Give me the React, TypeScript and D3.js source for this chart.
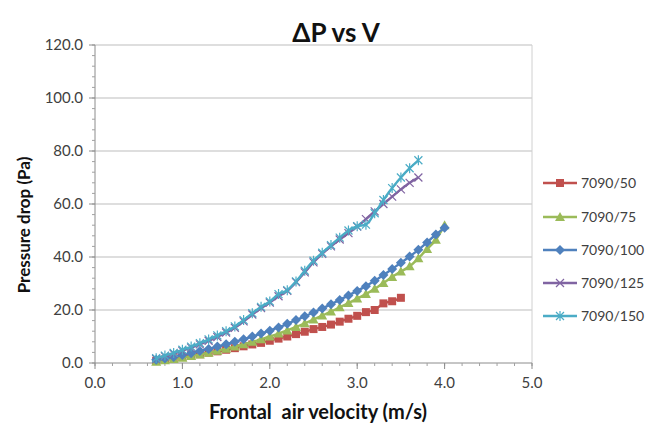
import React from "react";
import * as d3 from "d3";

const seriesNames = ["7090/50", "7090/75", "7090/100", "7090/125", "7090/150"];
const seriesColors = ["#C0504D", "#9BBB59", "#4F81BD", "#8064A2", "#4BACC6"];
const markerTypes = ["square", "triangle", "diamond", "x", "star"];

const v50 = [0.7, 0.8, 0.9, 1.0, 1.1, 1.2, 1.3, 1.4, 1.5, 1.6, 1.7, 1.8, 1.9, 2.0, 2.1, 2.2, 2.3, 2.4, 2.5, 2.6, 2.7, 2.8, 2.9, 3.0, 3.1, 3.2, 3.3, 3.4, 3.5];
const p50 = [0.8, 1.3, 1.8, 2.3, 2.8, 3.3, 3.9, 4.4, 5.0, 5.6, 6.3, 7.0, 7.6, 8.4, 9.2, 10.0, 10.9, 11.8, 12.8, 13.6, 14.5, 15.6, 16.7, 17.8, 19.2, 20.0, 22.5, 23.3, 24.6];

const v75 = [0.7, 0.8, 0.9, 1.0, 1.1, 1.2, 1.3, 1.4, 1.5, 1.6, 1.7, 1.8, 1.9, 2.0, 2.1, 2.2, 2.3, 2.4, 2.5, 2.6, 2.7, 2.8, 2.9, 3.0, 3.1, 3.2, 3.3, 3.4, 3.5, 3.6, 3.7, 3.8, 3.9, 4.0];
const p75 = [0.5, 1.0, 1.5, 2.0, 2.6, 3.2, 3.9, 4.6, 5.4, 6.2, 7.1, 8.0, 9.0, 10.0, 11.1, 12.3, 13.6, 15.0, 16.4, 17.9, 19.4, 21.0, 22.6, 24.3, 26.0, 28.0, 30.2, 32.5, 34.5, 36.5, 39.5, 43.0, 46.5, 52.0];

const v100 = [0.7, 0.8, 0.9, 1.0, 1.1, 1.2, 1.3, 1.4, 1.5, 1.6, 1.7, 1.8, 1.9, 2.0, 2.1, 2.2, 2.3, 2.4, 2.5, 2.6, 2.7, 2.8, 2.9, 3.0, 3.1, 3.2, 3.3, 3.4, 3.5, 3.6, 3.7, 3.8, 3.9, 4.0];
const p100 = [1.2, 1.7, 2.3, 3.0, 3.7, 4.5, 5.3, 6.2, 7.1, 8.0, 9.0, 10.0, 11.1, 12.2, 13.4, 14.8, 16.2, 17.6, 19.1, 20.6, 22.2, 23.8, 25.5, 27.2, 29.0, 31.0, 33.2, 35.5, 37.8, 40.2, 42.7, 45.5, 48.5, 51.0];

const v125 = [0.7, 0.8, 0.9, 1.0, 1.1, 1.2, 1.3, 1.4, 1.5, 1.6, 1.7, 1.8, 1.9, 2.0, 2.1, 2.2, 2.3, 2.4, 2.5, 2.6, 2.7, 2.8, 2.9, 3.0, 3.1, 3.2, 3.3, 3.4, 3.5, 3.6, 3.7];
const p125 = [1.5, 2.5, 3.5, 4.6, 5.8, 7.0, 8.4, 9.8, 11.5, 13.3, 15.7, 18.3, 20.7, 22.8, 25.2, 27.2, 30.5, 34.2, 38.0, 41.2, 44.0, 46.6, 49.0, 51.5, 54.3, 57.2, 60.0, 62.8, 65.5, 68.0, 70.0];

const v150 = [0.7, 0.8, 0.9, 1.0, 1.1, 1.2, 1.3, 1.4, 1.5, 1.6, 1.7, 1.8, 1.9, 2.0, 2.1, 2.2, 2.3, 2.4, 2.5, 2.6, 2.7, 2.8, 2.9, 3.0, 3.1, 3.2, 3.3, 3.4, 3.5, 3.6, 3.7];
const p150 = [1.8, 2.8, 3.8, 5.0, 6.2, 7.5, 8.9, 10.4, 12.0, 13.8, 16.2, 18.8, 21.2, 23.2, 26.0, 27.5, 30.8, 34.8, 38.6, 41.6, 44.5, 47.3, 50.0, 51.6, 52.2, 56.5, 61.5, 66.0, 70.0, 73.5, 76.5];

const xTicks = [0, 1, 2, 3, 4, 5];
const yTicks = [0, 20, 40, 60, 80, 100, 120];

const W = 652;
const H = 425;
const left = 95;
const right = 532;
const top = 45;
const bottom = 363;

const FONT = "Lato, 'Open Sans', 'Liberation Sans', sans-serif";

function Marker({ type, x, y, color }: { type: string; x: number; y: number; color: string }) {
  if (type === "square") {
    return <rect x={x - 4} y={y - 4} width={8} height={8} fill={color} />;
  }
  if (type === "triangle") {
    return <path d={`M${x},${y - 5}L${x + 5},${y + 4}L${x - 5},${y + 4}Z`} fill={color} />;
  }
  if (type === "diamond") {
    return <path d={`M${x},${y - 5}L${x + 5},${y}L${x},${y + 5}L${x - 5},${y}Z`} fill={color} />;
  }
  if (type === "x") {
    return (
      <path d={`M${x - 4},${y - 4}L${x + 4},${y + 4}M${x - 4},${y + 4}L${x + 4},${y - 4}`} stroke={color} strokeWidth={1.2} fill="none" />
    );
  }
  return (
    <path
      d={`M${x - 4},${y - 4}L${x + 4},${y + 4}M${x - 4},${y + 4}L${x + 4},${y - 4}M${x},${y - 5}L${x},${y + 5}`}
      stroke={color}
      strokeWidth={1.2}
      fill="none"
    />
  );
}

export default function App() {
  const xs = d3.scaleLinear().domain([0, 5]).range([left, right]);
  const ys = d3.scaleLinear().domain([0, 120]).range([bottom, top]);

  const vs = [v50, v75, v100, v125, v150];
  const ps = [p50, p75, p100, p125, p150];
  const series = seriesNames.map((name, i) => ({
    name,
    color: seriesColors[i],
    marker: markerTypes[i],
    pts: vs[i].map((v, j) => [v, ps[i][j]] as [number, number]),
  }));

  const line = d3
    .line<[number, number]>()
    .x((d) => xs(d[0]))
    .y((d) => ys(d[1]))
    .curve(d3.curveMonotoneX);

  const xMinor = d3.range(0, 5.0001, 0.2);
  const yMinor = d3.range(0, 120.0001, 4);

  const legendY = [183, 217, 250, 283, 316];

  return (
    <svg width={W} height={H} style={{ position: "absolute", left: 0, top: 0, background: "#fff" }} fontFamily={FONT}>
      <rect x={0} y={0} width={W} height={H} fill="#fff" />
      <text x={336} y={42} textAnchor="middle" fontSize={26} fontWeight="bold" fill="#111">
        ΔP vs V
      </text>

      {/* gridlines */}
      {yTicks.slice(1).map((t) => (
        <line key={"g" + t} x1={left} x2={right} y1={ys(t)} y2={ys(t)} stroke="#bdbdbd" strokeWidth={1} />
      ))}
      <line x1={right} x2={right} y1={top} y2={bottom} stroke="#d0d0d0" strokeWidth={1} />

      {/* axes */}
      <line x1={left} x2={left} y1={top} y2={bottom} stroke="#8c8c8c" strokeWidth={1} />
      <line x1={left} x2={right} y1={bottom} y2={bottom} stroke="#8c8c8c" strokeWidth={1} />
      {yMinor.map((t) => (
        <line key={"ym" + t} x1={left - 3} x2={left} y1={ys(t)} y2={ys(t)} stroke="#a0a0a0" strokeWidth={1} />
      ))}
      {yTicks.map((t) => (
        <line key={"yt" + t} x1={left - 6} x2={left} y1={ys(t)} y2={ys(t)} stroke="#8c8c8c" strokeWidth={1} />
      ))}
      {xMinor.map((t) => (
        <line key={"xm" + t} x1={xs(t)} x2={xs(t)} y1={bottom} y2={bottom + 3} stroke="#a0a0a0" strokeWidth={1} />
      ))}
      {xTicks.map((t) => (
        <line key={"xt" + t} x1={xs(t)} x2={xs(t)} y1={bottom} y2={bottom + 6} stroke="#8c8c8c" strokeWidth={1} />
      ))}

      {yTicks.map((t) => (
        <text key={"yl" + t} x={left - 12} y={ys(t) + 5} textAnchor="end" fontSize={15} fill="#404040">
          {t.toFixed(1)}
        </text>
      ))}
      {xTicks.map((t) => (
        <text key={"xl" + t} x={xs(t)} y={bottom + 25} textAnchor="middle" fontSize={15} fill="#404040">
          {t.toFixed(1)}
        </text>
      ))}

      <text x={318} y={419} textAnchor="middle" fontSize={20} fontWeight="bold" fill="#111" style={{ whiteSpace: "pre" }}>
        {"Frontal  air velocity (m/s)"}
      </text>
      <text transform={`translate(30,225) rotate(-90)`} textAnchor="middle" fontSize={17} fontWeight="bold" fill="#111">
        Pressure drop (Pa)
      </text>

      {/* series */}
      {series.map((s) => (
        <g key={s.name}>
          <path d={line(s.pts) || ""} fill="none" stroke={s.color} strokeWidth={2.4} />
          {s.pts.map((p, j) => (
            <Marker key={j} type={s.marker} x={xs(p[0])} y={ys(p[1])} color={s.color} />
          ))}
        </g>
      ))}

      {/* legend */}
      {series.map((s, i) => (
        <g key={"lg" + s.name}>
          <line x1={543} x2={577} y1={legendY[i]} y2={legendY[i]} stroke={s.color} strokeWidth={2.4} />
          <Marker type={s.marker} x={560} y={legendY[i]} color={s.color} />
          <text x={581} y={legendY[i] + 5} fontSize={14} fill="#404040">
            {s.name}
          </text>
        </g>
      ))}
    </svg>
  );
}
